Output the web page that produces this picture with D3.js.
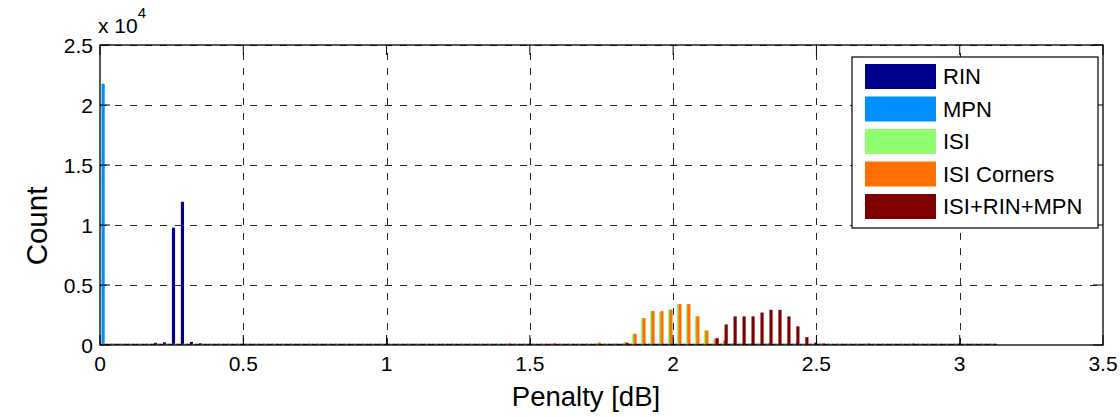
<!DOCTYPE html>
<html>
<head>
<meta charset="utf-8">
<script src="https://cdn.jsdelivr.net/npm/d3@7"></script>
<style>
	body { margin: 0; background: #fff; }
	text { font-family: "Liberation Sans", Arial, sans-serif; fill: #000; }
</style>
</head>
<body>
<svg class="chart"></svg>
<script>

// histogram bins (dB)
var binStart = 0;
var binWidth = 0.0313;
var binCount = 100;

// series names and colours
var seriesNames = ["RIN", "MPN", "ISI", "ISI Corners", "ISI+RIN+MPN"];
var seriesColors = ["#00008f", "#008fff", "#8fff70", "#ff7000", "#800000"];

// non-zero bins per series: [bin index, count]
var rinCounts = [[6, 80], [7, 120], [8, 9670], [9, 11830], [10, 150], [11, 40]];
var mpnCounts = [[0, 21670]];
var isiCounts = [[55, 60], [57, 80], [58, 150], [59, 830], [60, 2100], [61, 2720], [62, 2650],
	[63, 2860], [64, 3300], [65, 3300], [66, 2280], [67, 1110], [68, 300], [69, 100],
	[71, 60], [73, 80], [76, 60]];
var cornerCounts = [[45, 40], [50, 50], [55, 100], [58, 120], [59, 830], [60, 2140], [61, 2720],
	[62, 2720], [63, 2840], [64, 3300], [65, 3300], [66, 2280], [67, 1100], [68, 420], [69, 280],
	[70, 60], [72, 60], [74, 60], [77, 50], [80, 60], [85, 40], [90, 40], [95, 30]];
var mixCounts = [[58, 50], [68, 460], [69, 1610], [70, 2280], [71, 2280], [72, 2280], [73, 2600],
	[74, 2830], [75, 2830], [76, 2280], [77, 1450], [78, 550], [79, 100]];

// tick values
var xTicks = [0, 0.5, 1, 1.5, 2, 2.5, 3, 3.5];
var yTicks = [0, 5000, 10000, 15000, 20000, 25000];
var yTickLabels = ["0", "0.5", "1", "1.5", "2", "2.5"];

var allCounts = [rinCounts, mpnCounts, isiCounts, cornerCounts, mixCounts];

var width = 1120, height = 417;
var margin = {left: 100, right: 17, top: 45, bottom: 72};

var svg = d3.select("svg.chart")
	.attr("width", width)
	.attr("height", height);

var x = d3.scaleLinear().domain([0, 3.5]).range([margin.left, width - margin.right]);
var y = d3.scaleLinear().domain([0, 25000]).range([height - margin.bottom, margin.top]);

// grid
var grid = svg.append("g")
	.attr("stroke", "#262626")
	.attr("stroke-width", 1)
	.attr("stroke-dasharray", "7,8");
grid.selectAll("line.gx")
	.data(xTicks.slice(1, -1))
	.enter().append("line")
	.attr("x1", function(d) { return Math.round(x(d)) + 0.5; })
	.attr("x2", function(d) { return Math.round(x(d)) + 0.5; })
	.attr("y1", y(0)).attr("y2", y(25000));
grid.selectAll("line.gy")
	.data(yTicks.slice(1))
	.enter().append("line")
	.attr("y1", function(d) { return Math.round(y(d)) + 0.5; })
	.attr("y2", function(d) { return Math.round(y(d)) + 0.5; })
	.attr("x1", x(0)).attr("x2", x(3.5));

// grouped bars, matlab style
var nSeries = seriesNames.length;
var groupWidth = Math.min(0.8, nSeries / (nSeries + 1.5)) * binWidth;
var slot = groupWidth / nSeries;
var barPx = x(slot) - x(0) + 1.8;
var minH = 2.5;

allCounts.forEach(function(pairs, s) {
	var counts = d3.range(binCount).map(function() { return 0; });
	pairs.forEach(function(p) { counts[p[0]] = p[1]; });
	var offset = (s - (nSeries - 1) / 2) * slot;
	svg.append("g")
		.attr("fill", seriesColors[s])
		.selectAll("rect")
		.data(counts)
		.enter().append("rect")
		.attr("x", function(d, i) {
			var c = binStart + binWidth * (i + 0.5) + offset;
			return x(c) - barPx / 2;
		})
		.attr("width", barPx)
		.attr("y", function(d) { return y(d) - minH / 2; })
		.attr("height", function(d) { return y(0) - y(d) + minH / 2; });
});

// axes box
svg.append("rect")
	.attr("x", x(0)).attr("y", y(25000))
	.attr("width", x(3.5) - x(0)).attr("height", y(0) - y(25000))
	.attr("fill", "none").attr("stroke", "#000").attr("stroke-width", 1.3);

// ticks (inward, all four sides)
var tickLen = 10;
var ticks = svg.append("g").attr("stroke", "#000").attr("stroke-width", 1);
xTicks.forEach(function(t) {
	ticks.append("line").attr("x1", x(t)).attr("x2", x(t)).attr("y1", y(0)).attr("y2", y(0) - tickLen);
	ticks.append("line").attr("x1", x(t)).attr("x2", x(t)).attr("y1", y(25000)).attr("y2", y(25000) + tickLen);
});
yTicks.forEach(function(t) {
	ticks.append("line").attr("y1", y(t)).attr("y2", y(t)).attr("x1", x(0)).attr("x2", x(0) + tickLen);
	ticks.append("line").attr("y1", y(t)).attr("y2", y(t)).attr("x1", x(3.5)).attr("x2", x(3.5) - tickLen);
});

// tick labels
svg.selectAll("text.xt")
	.data(xTicks)
	.enter().append("text")
	.attr("x", function(d) { return x(d); })
	.attr("y", 371)
	.attr("text-anchor", "middle")
	.style("font-size", "21px")
	.text(function(d) { return d; });
svg.selectAll("text.yt")
	.data(yTicks)
	.enter().append("text")
	.attr("x", 93)
	.attr("y", function(d) { return y(d) + 7.5; })
	.attr("text-anchor", "end")
	.style("font-size", "21px")
	.text(function(d, i) { return yTickLabels[i]; });

// exponent
var expo = svg.append("text").attr("x", 98).attr("y", 33).style("font-size", "21px");
expo.append("tspan").text("x 10");
expo.append("tspan").attr("dy", -15).style("font-size", "15px").text("4");

// axis labels
svg.append("text")
	.attr("x", 586)
	.attr("y", 406)
	.attr("text-anchor", "middle")
	.style("font-size", "27.5px")
	.text("Penalty [dB]");
svg.append("text")
	.attr("transform", "translate(47,226) rotate(-90)")
	.attr("text-anchor", "middle")
	.style("font-size", "29.5px")
	.text("Count");

// legend
var legend = svg.append("g").attr("transform", "translate(852,57)");
legend.append("rect")
	.attr("width", 246).attr("height", 171)
	.attr("fill", "#fff").attr("stroke", "#000").attr("stroke-width", 1.2);
var rows = legend.selectAll("g.row")
	.data(seriesNames)
	.enter().append("g")
	.attr("transform", function(d, i) { return "translate(13," + (7 + i * 32.5) + ")"; });
rows.append("rect")
	.attr("width", 71).attr("height", 25)
	.attr("fill", function(d, i) { return seriesColors[i]; });
rows.append("text")
	.attr("x", 78).attr("y", 20)
	.style("font-size", "22px")
	.text(function(d) { return d; });

</script>
</body>
</html>
